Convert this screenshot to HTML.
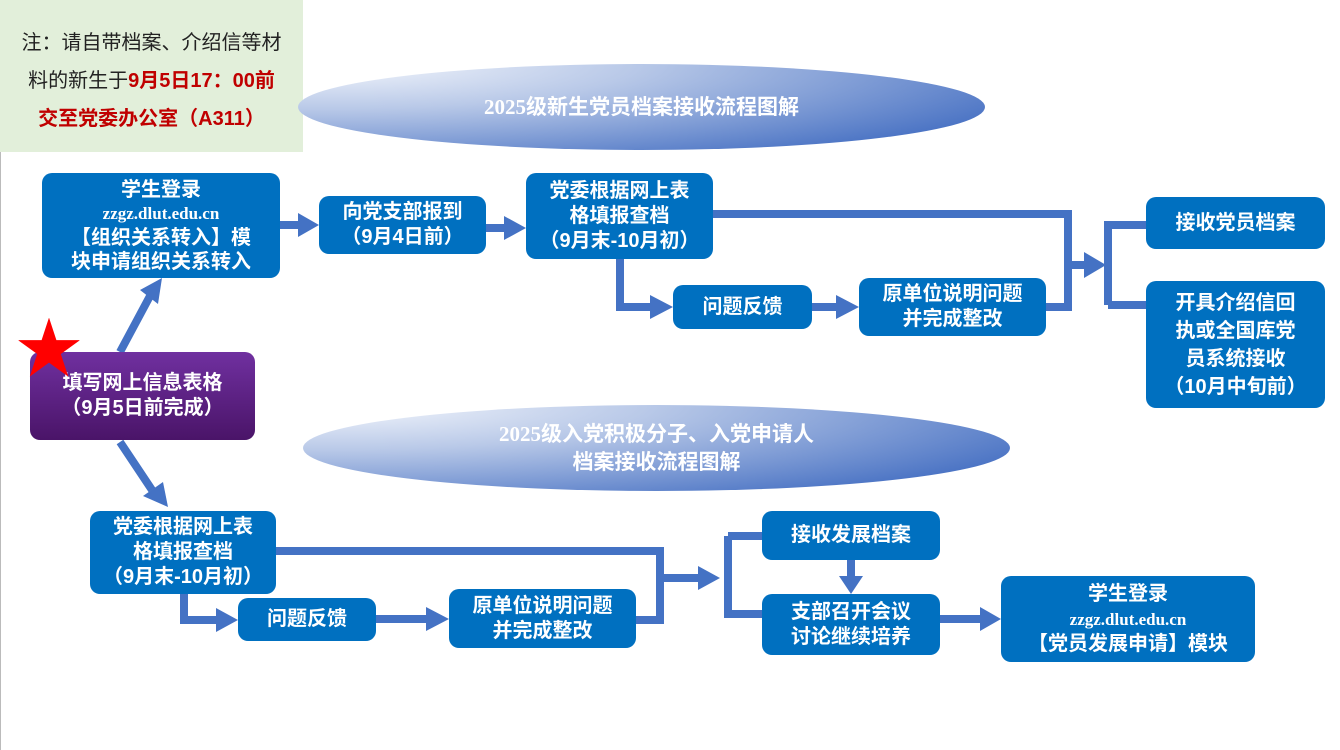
<!DOCTYPE html>
<html><head><meta charset="utf-8"><style>
body{margin:0;width:1340px;height:750px;position:relative;background:#fff;overflow:hidden;font-family:"Liberation Sans","Noto Sans CJK SC",sans-serif}
.bl{position:absolute;left:0;top:0;width:1px;height:750px;background:#bbb}
.b{position:absolute;background:#0070C0;color:#fff;font-weight:bold;font-size:20px;line-height:25px;text-align:center;border-radius:10px;display:flex;flex-direction:column;justify-content:center;align-items:center}
.u{font-family:"Liberation Serif",serif;font-size:17px}
.e{position:absolute;border-radius:50%;background:radial-gradient(ellipse 110% 130% at 5% 0%,#f3f6fc 0%,#b9c9e8 40%,#4a73c4 100%);color:#fff;font-weight:bold;font-size:21px;line-height:28px;text-align:center;display:flex;flex-direction:column;justify-content:center;font-family:"Liberation Serif","Noto Sans CJK SC",serif}
</style></head><body>
<div class="bl"></div>
<div style="position:absolute;left:0;top:0;width:303px;height:152px;background:#E2EFDA;font-size:20px;line-height:38px;text-align:center;padding-top:24px;box-sizing:border-box;color:#222">注：请自带档案、介绍信等材<br>料的新生于<b style="color:#C00000">9月5日17：00前</b><br><b style="color:#C00000">交至党委办公室（A311）</b></div>
<div class="e" style="left:298px;top:64px;width:687px;height:86px">2025级新生党员档案接收流程图解</div>
<div class="e" style="left:303px;top:405px;width:707px;height:86px">2025级入党积极分子、入党申请人<br>档案接收流程图解</div>
<svg style="position:absolute;left:0;top:0" width="1340" height="750">
<g fill="none" stroke="#4472C4" stroke-width="8">
<path d="M280 225H300M486 228H506M713 214H1068V307H1046M1068 265H1086M620 258V307H652M812 307H838M1108 305V225H1146M1108 305H1146"/>
<path d="M120 352L150 296M120 442L152 490"/>
<path d="M276 551H660V620H636M660 578H700M184 594V620H218M376 619H428M728 536H762M728 536V614H762M851 560V578M940 619H982"/>
</g>
<g fill="#4472C4">
<polygon points="298,213 319,225 298,237"/><polygon points="504,216 526,228 504,240"/>
<polygon points="650,295 673,307 650,319"/><polygon points="836,295 859,307 836,319"/>
<polygon points="1084,252 1106,265 1084,278"/>
<polygon points="140,290 162,278 158,304"/><polygon points="143,496 168,507 163,482"/>
<polygon points="216,608 238,620 216,632"/><polygon points="426,607 449,619 426,631"/>
<polygon points="698,566 720,578 698,590"/><polygon points="839,576 851,594 863,576"/>
<polygon points="980,607 1001,619 980,631"/>
</g>
</svg>
<div class="b" style="left:42px;top:173px;width:238px;height:105px;line-height:24px">学生登录<span class="u">zzgz.dlut.edu.cn</span>【组织关系转入】模<br>块申请组织关系转入</div>
<div class="b" style="left:319px;top:196px;width:167px;height:58px">向党支部报到<br>（9月4日前）</div>
<div class="b" style="left:526px;top:173px;width:187px;height:86px">党委根据网上表<br>格填报查档<br>（9月末-10月初）</div>
<div class="b" style="left:673px;top:285px;width:139px;height:44px">问题反馈</div>
<div class="b" style="left:859px;top:278px;width:187px;height:58px">原单位说明问题<br>并完成整改</div>
<div class="b" style="left:1146px;top:197px;width:179px;height:52px">接收党员档案</div>
<div class="b" style="left:1146px;top:281px;width:179px;height:127px;line-height:28px">开具介绍信回<br>执或全国库党<br>员系统接收<br>（10月中旬前）</div>
<div class="b" style="left:30px;top:352px;width:225px;height:88px;background:linear-gradient(#7030A0,#4a1468)">填写网上信息表格<br>（9月5日前完成）</div>
<div style="position:absolute;left:16px;top:316px;color:#f00;font-size:66px;line-height:66px">★</div>
<div class="b" style="left:90px;top:511px;width:186px;height:83px">党委根据网上表<br>格填报查档<br>（9月末-10月初）</div>
<div class="b" style="left:238px;top:598px;width:138px;height:43px">问题反馈</div>
<div class="b" style="left:449px;top:589px;width:187px;height:59px">原单位说明问题<br>并完成整改</div>
<div class="b" style="left:762px;top:511px;width:178px;height:49px">接收发展档案</div>
<div class="b" style="left:762px;top:594px;width:178px;height:61px">支部召开会议<br>讨论继续培养</div>
<div class="b" style="left:1001px;top:576px;width:254px;height:86px">学生登录<span class="u">zzgz.dlut.edu.cn</span>【党员发展申请】模块</div>
</body></html>
